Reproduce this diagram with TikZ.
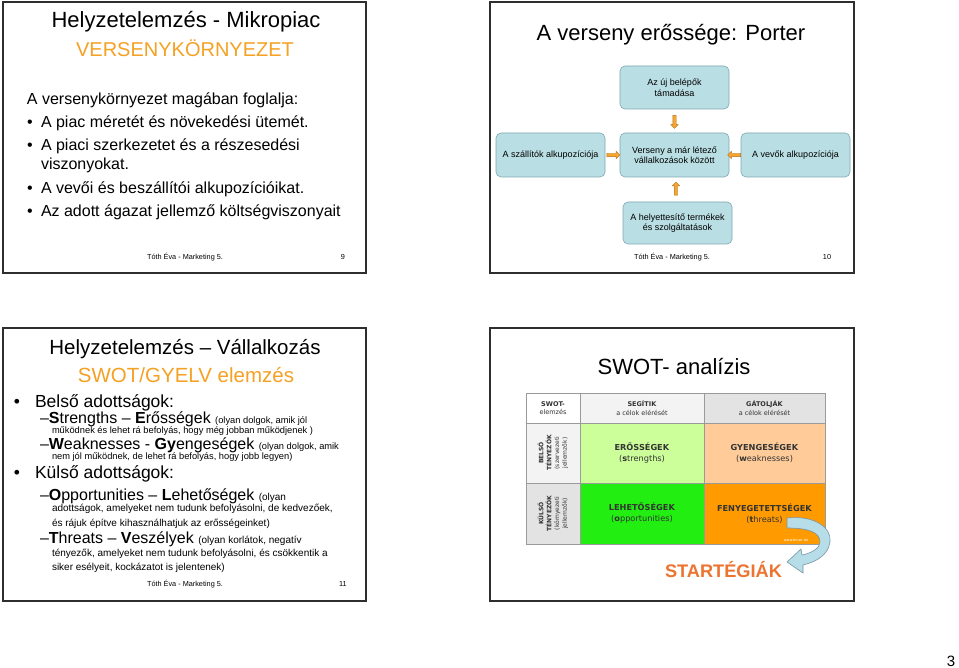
\documentclass[tikz,border=0pt]{standalone}
\usepackage{fontspec}
\setmainfont{Liberation Sans}
\newfontfamily\verd{DejaVu Sans}
\usetikzlibrary{shapes.arrows,calc}
\newcommand\fsz[2]{\fontsize{#1}{#2}\selectfont}
\definecolor{framec}{HTML}{2E2E2E}
\definecolor{titleor}{HTML}{F4A124}
\definecolor{pfill}{HTML}{B9DEE3}
\definecolor{pdraw}{HTML}{7FA9B0}
\definecolor{aor}{HTML}{F6A630}
\definecolor{aordk}{HTML}{B9701A}
\definecolor{cellline}{HTML}{9A9A9A}
\definecolor{celltxt}{HTML}{333333}
\definecolor{cwhite}{HTML}{FFFFFF}
\definecolor{clgray}{HTML}{F3F3F3}
\definecolor{cmgray}{HTML}{E3E3E3}
\definecolor{cstr}{HTML}{CCFF99}
\definecolor{cweak}{HTML}{FFCC99}
\definecolor{copp}{HTML}{22EE11}
\definecolor{cthr}{HTML}{FF9A00}
\definecolor{carrowfill}{HTML}{B7DDE8}
\definecolor{carrowdraw}{HTML}{7896A6}
\definecolor{strat}{HTML}{EC7430}
\begin{document}
\begin{tikzpicture}[x=1pt,y=-1pt,
  every node/.style={inner sep=0pt, outer sep=0pt},
  slideframe/.style={draw=framec, line width=1.4pt},
  ttl/.style={font=\fsz{22}{26}},
  ttlor/.style={font=\fsz{20}{24}, text=titleor},
  bodyl/.style={anchor=base west, font=\fsz{16}{19}},
  bul/.style={anchor=base, font=\fsz{16}{19}},
  foot/.style={font=\fsz{7.3}{8}},
  pbox/.style={draw=pdraw, fill=pfill, rounded corners=5pt, minimum width=109pt, minimum height=43pt, align=center, font=\fsz{9}{10.5}, line width=0.6pt},
  parr/.style={shape=single arrow, fill=aor, draw=aordk, line width=0.4pt, inner sep=1.5pt, minimum height=13pt, single arrow head extend=2pt, single arrow head indent=0pt},
  big/.style={anchor=base west, font=\fsz{16}{19}},
  bigb/.style={anchor=base west, font=\fsz{17.5}{20}},
  small/.style={anchor=base west, font=\fsz{10}{12}},
  cell/.style={draw=cellline, line width=0.7pt, align=center, text=celltxt},
  hdr/.style={font=\verd\fsz{6.5}{8.5}},
  rot/.style={font=\verd\fsz{6}{7.8}},
  main/.style={font=\verd\fsz{8.2}{11}}
]
\useasboundingbox[fill=white] (0,0) rectangle (959,668);

% ---------- slide frames ----------
\draw[slideframe] (3,2) rectangle (366,273);
\draw[slideframe] (490,2) rectangle (854,273);
\draw[slideframe] (3,328) rectangle (366,601);
\draw[slideframe] (490,328) rectangle (854,601);

% ---------- slide 9 ----------
\node[ttl] (s1t) at (186,22) {Helyzetelemzés - Mikropiac};
\node[ttlor] (s1o) at (185,48) {VERSENYKÖRNYEZET};
\node[bodyl] (s1b0) at (27,105) {A versenykörnyezet magában foglalja:};
\node[bul] (s1d1) at (30,128) {•};
\node[bodyl] (s1b1) at (41,128) {A piac méretét és növekedési ütemét.};
\node[bul] (s1d2) at (30,151) {•};
\node[bodyl] (s1b2) at (41,151) {A piaci szerkezetet és a részesedési};
\node[bodyl] (s1b2b) at (41,170) {viszonyokat.};
\node[bul] (s1d3) at (30,194) {•};
\node[bodyl] (s1b3) at (41,194) {A vevői és beszállítói alkupozícióikat.};
\node[bul] (s1d4) at (30,217) {•};
\node[bodyl] (s1b4) at (41,217) {Az adott ágazat jellemző költségviszonyait};
\node[foot] (s1f) at (185,257) {Tóth Éva - Marketing 5.};
\node[foot] (s1n) at (343,257) {9};

% ---------- slide 10 ----------
\node[ttl] (s2t) at (671,35) {A verseny erőssége: Porter};
\node[pbox] (ptop) at (674.5,87.5) {Az új belépők\\támadása};
\node[pbox, minimum height=44pt] (pmid) at (674.5,155) {Verseny a már létező\\vállalkozások között};
\node[pbox, minimum height=44pt] (pleft) at (550.5,155) {A szállítók alkupozíciója};
\node[pbox, minimum height=44pt] (pright) at (795.5,155) {A vevők alkupozíciója};
\node[pbox, minimum height=42pt] (pbot) at (677.5,223) {A helyettesítő termékek\\és szolgáltatások};
\path (ptop) -- node[parr, shape border rotate=270] (a1) {} (pmid);
\path (pleft) -- node[parr, shape border rotate=0] (a2) {} (pmid);
\path (pright) -- node[parr, shape border rotate=180] (a3) {} (pmid);
\path (pbot) -- node[parr, shape border rotate=90] (a4) {} (pmid);
\node[foot] (s2f) at (672,257) {Tóth Éva - Marketing 5.};
\node[foot] (s2n) at (827,257) {10};

% ---------- slide 11 ----------
\node[ttl, font=\fsz{20.5}{24}] (s3t) at (185,349) {Helyzetelemzés – Vállalkozás};
\node[ttlor, font=\fsz{20.5}{24}] (s3o) at (186,375) {SWOT/GYELV elemzés};
\node[bul, font=\fsz{17.5}{20}] (s3d1) at (17,407) {•};
\node[bigb] (s3b1) at (35,407) {Belső adottságok:};
\node[big] (s3s) at (40,423) {–\textbf{S}trengths – \textbf{E}rősségek {\fsz{9.3}{11}(olyan dolgok, amik jól}};
\node[small, font=\fsz{9.3}{11}] (s3s2) at (52,433) {működnek és lehet rá befolyás, hogy még jobban működjenek )};
\node[big] (s3w) at (40,449) {–\textbf{W}eaknesses - \textbf{Gy}engeségek {\fsz{9.3}{11}(olyan dolgok, amik}};
\node[small, font=\fsz{9.3}{11}] (s3w2) at (52,459) {nem jól működnek, de lehet rá befolyás, hogy jobb legyen)};
\node[bul, font=\fsz{17.5}{20}] (s3d2) at (17,478) {•};
\node[bigb] (s3b2) at (35,478) {Külső adottságok:};
\node[big] (s3op) at (40,500) {–\textbf{O}pportunities – \textbf{L}ehetőségek {\fsz{10}{12}(olyan}};
\node[small] (s3op2) at (52,511) {adottságok, amelyeket nem tudunk befolyásolni, de kedvezőek,};
\node[small] (s3op3) at (52,526) {és rájuk építve kihasználhatjuk az erősségeinket)};
\node[big] (s3th) at (40,543) {–\textbf{T}hreats – \textbf{V}eszélyek {\fsz{10}{12}(olyan korlátok, negatív}};
\node[small] (s3th2) at (52,556) {tényezők, amelyeket nem tudunk befolyásolni, és csökkentik a};
\node[small] (s3th3) at (52,570) {siker esélyeit, kockázatot is jelentenek)};
\node[foot] (s3f) at (185,584) {Tóth Éva - Marketing 5.};
\node[foot] (s3n) at (343,584) {11};

% ---------- slide SWOT ----------
\node[ttl] (s4t) at (674,367) {SWOT- analízis};
\node[cell, fill=cwhite, minimum width=54pt, minimum height=30pt, hdr] (c11) at (553,408) {\textbf{SWOT-}\\elemzés};
\node[cell, fill=clgray, minimum width=124pt, minimum height=30pt, hdr] (c12) at (642,408) {\textbf{SEGÍTIK}\\a célok elérését};
\node[cell, fill=cmgray, minimum width=121pt, minimum height=30pt, hdr] (c13) at (764.5,408) {\textbf{GÁTOLJÁK}\\a célok elérését};
\node[cell, fill=clgray, minimum width=54pt, minimum height=60pt] (c21) at (553,453) {};
\node[rot, rotate=90, align=center, text=celltxt] (c21t) at (c21) {\textbf{BELSŐ}\\\textbf{TÉNYEZŐK}\\(szervezeti\\jellemzők)};
\node[cell, fill=cstr, minimum width=124pt, minimum height=60pt, main] (c22) at (642,453) {\textbf{ERŐSSÉGEK}\\(\textbf{s}trengths)};
\node[cell, fill=cweak, minimum width=121pt, minimum height=60pt, main] (c23) at (764.5,453) {\textbf{GYENGESÉGEK}\\(\textbf{w}eaknesses)};
\node[cell, fill=cmgray, minimum width=54pt, minimum height=61pt] (c31) at (553,513.5) {};
\node[rot, rotate=90, align=center, text=celltxt] (c31t) at (c31) {\textbf{KÜLSŐ}\\\textbf{TÉNYEZŐK}\\(környezeti\\jellemzők)};
\node[cell, fill=copp, minimum width=124pt, minimum height=61pt, main] (c32) at (642,513.5) {\textbf{LEHETŐSÉGEK}\\(\textbf{o}pportunities)};
\node[cell, fill=cthr, minimum width=121pt, minimum height=61pt, main] (c33) at (764.5,513.5) {\textbf{FENYEGETETTSÉGEK}\\(\textbf{t}hreats)};
\node[font=\verd\fsz{3.5}{4}, text=white] (web) at (796,540) {www.bmwi.de};
\filldraw[fill=carrowfill, draw=carrowdraw, line width=0.6pt]
  (787,518) .. controls (815,515) and (832,528) .. (830,542)
  .. controls (828,556) and (815,562) .. (803,565)
  -- (803,573) -- (787,562) -- (801,549) -- (802,555)
  .. controls (812,553) and (820,548) .. (820,542)
  .. controls (820,532) and (808,528) .. (787,528) -- cycle;
\node[font=\bfseries\fsz{18.2}{21}, text=strat] (s4s) at (723.5,570) {STARTÉGIÁK};

% ---------- page number ----------
\node[font=\fsz{15}{18}] (pg) at (951,661) {3};
\end{tikzpicture}
\end{document}
